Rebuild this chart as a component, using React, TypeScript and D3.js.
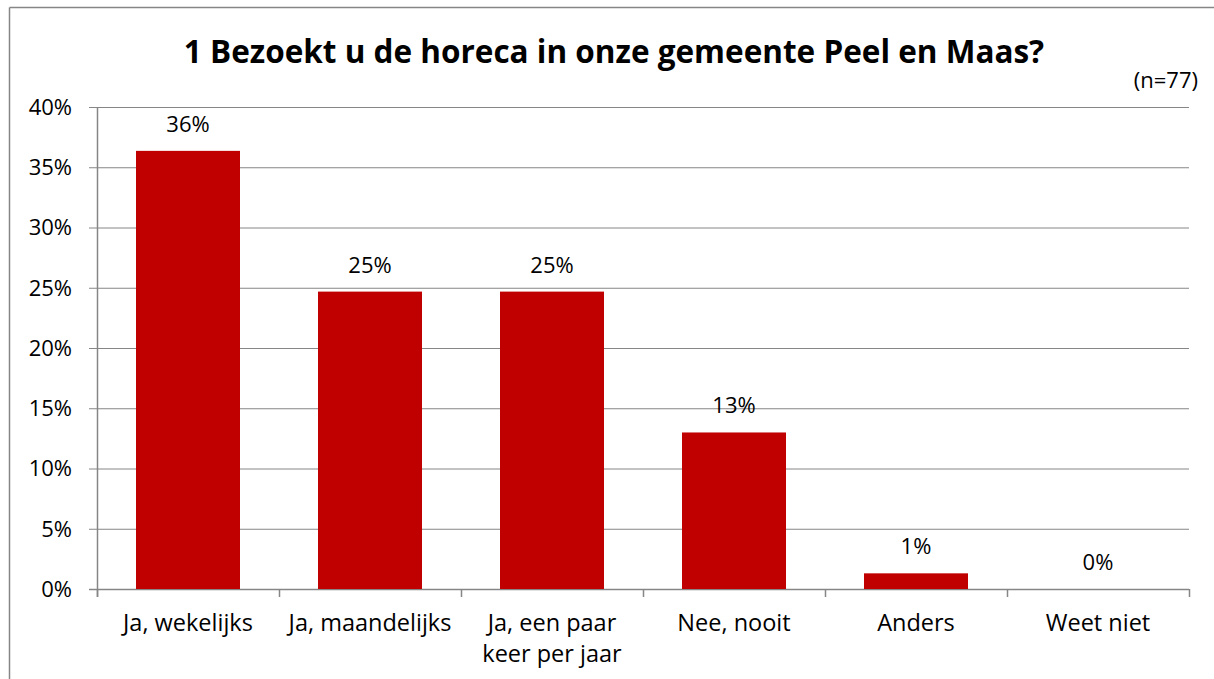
import React from "react";
import * as d3 from "d3";

const categories: string[][] = [
  ["Ja, wekelijks"],
  ["Ja, maandelijks"],
  ["Ja, een paar", "keer per jaar"],
  ["Nee, nooit"],
  ["Anders"],
  ["Weet niet"],
];
const values: number[] = [0.3636, 0.2468, 0.2468, 0.1299, 0.013, 0];
const yTicks: number[] = [0, 0.05, 0.1, 0.15, 0.2, 0.25, 0.3, 0.35, 0.4];
const title = "1 Bezoekt u de horeca in onze gemeente Peel en Maas?";
const subtitle = "(n=77)";

const W = 1214;
const H = 679;
const FONT = "'Open Sans', 'DejaVu Sans', sans-serif";
const GRID = "#868686";
const BAR = "#C00000";

export default function App() {
  const left = 97;
  const right = 1189;
  const top = 107;
  const bottom = 589;
  const keys = categories.map((c) => c.join(" "));
  const x = d3
    .scaleBand<string>()
    .domain(keys)
    .range([left, right])
    .paddingInner(0.4286)
    .paddingOuter(0.2143);
  const y = d3.scaleLinear().domain([0, 0.4]).range([bottom, top]);
  const fmt = d3.format(".0%");
  const step = x.step();

  return (
    <svg
      width={W}
      height={H}
      style={{ position: "absolute", left: 0, top: 0, background: "#fff" }}
      fontFamily={FONT}
    >
      <rect x={0} y={0} width={W} height={H} fill="#fff" />
      {/* chart border */}
      <line x1={9.5} y1={7.5} x2={W} y2={7.5} stroke={GRID} strokeWidth={1.5} />
      <line x1={9.5} y1={7.5} x2={9.5} y2={H} stroke={GRID} strokeWidth={1.5} />

      <text x={614} y={63} textAnchor="middle" fontSize={31.5} fontWeight="bold" fill="#000">
        {title}
      </text>
      <text x={1198} y={88} textAnchor="end" fontSize={22} fill="#000">
        {subtitle}
      </text>

      {/* gridlines and y labels */}
      {yTicks.map((t) => (
        <g key={t}>
          <line x1={left - 8} x2={right} y1={y(t) + 0.5} y2={y(t) + 0.5} stroke={GRID} strokeWidth={t === 0 ? 1.5 : 1} />
          <text x={72} y={y(t)} dy="0.36em" textAnchor="end" fontSize={22} fill="#000">
            {fmt(t)}
          </text>
        </g>
      ))}
      {/* y axis */}
      <line x1={left + 0.5} x2={left + 0.5} y1={top} y2={bottom + 8} stroke={GRID} strokeWidth={1.5} />
      {/* x ticks */}
      {d3.range(keys.length + 1).map((i) => (
        <line
          key={i}
          x1={left + i * step + 0.5}
          x2={left + i * step + 0.5}
          y1={bottom}
          y2={bottom + 8}
          stroke={GRID}
          strokeWidth={1.5}
        />
      ))}

      {/* bars */}
      {values.map((v, i) => (
        <rect
          key={keys[i]}
          x={x(keys[i])}
          y={y(v)}
          width={x.bandwidth()}
          height={bottom - y(v)}
          fill={BAR}
        />
      ))}
      {/* data labels */}
      {values.map((v, i) => (
        <text
          key={"l" + keys[i]}
          x={(x(keys[i]) as number) + x.bandwidth() / 2}
          y={y(v) - 19}
          textAnchor="middle"
          fontSize={22}
          fill="#000"
        >
          {fmt(v)}
        </text>
      ))}
      {/* category labels */}
      {categories.map((c, i) => (
        <text
          key={"c" + keys[i]}
          x={(x(keys[i]) as number) + x.bandwidth() / 2}
          y={631}
          textAnchor="middle"
          fontSize={23.5}
          fill="#000"
        >
          {c.map((line, j) => (
            <tspan key={j} x={(x(keys[i]) as number) + x.bandwidth() / 2} dy={j === 0 ? 0 : 31}>
              {line}
            </tspan>
          ))}
        </text>
      ))}
    </svg>
  );
}
